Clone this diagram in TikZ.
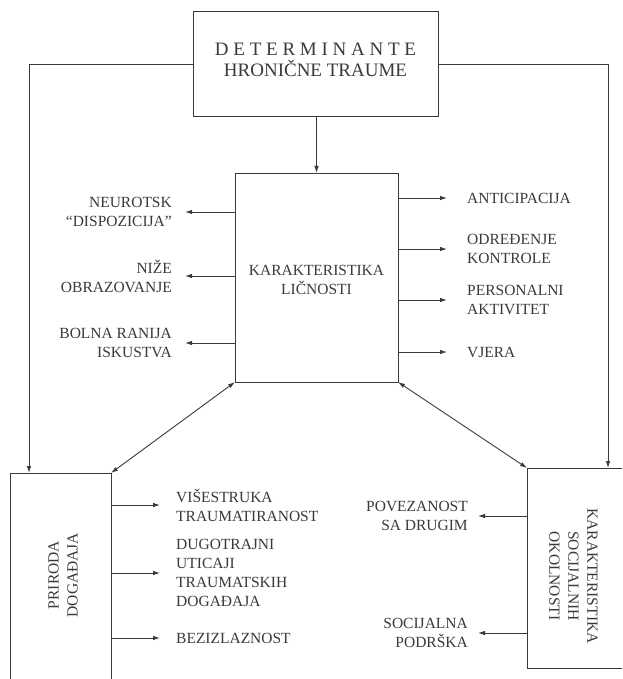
\documentclass[tikz,border=0pt]{standalone}
\usepackage{fontspec}
\setmainfont{Liberation Serif}
\usetikzlibrary{arrows.meta}
\definecolor{ink}{HTML}{3A3A3A}
\begin{document}
\begin{tikzpicture}[x=1pt,y=-1pt,
  box/.style={draw=ink, line width=1pt, inner sep=0pt, outer sep=0pt},
  con/.style={draw=ink, line width=0.9pt},
  arr/.style={con, -{Latex[length=7pt,width=4.5pt]}},
  darr/.style={con, {Latex[length=7pt,width=4.5pt]}-{Latex[length=7pt,width=4.5pt]}},
  txt/.style={text=ink, font=\fontsize{15.5}{19}\selectfont, inner ysep=0pt},
  labL/.style={txt, anchor=east, align=right},
  labR/.style={txt, anchor=west, align=left}]
\clip (0,0) rectangle (622,679);
\fill[white] (0,0) rectangle (622,679);
% boxes
\node[box, minimum width=245pt, minimum height=105pt] (top) at (315.5,64.5) {};
\node[box, minimum width=163pt, minimum height=209pt] (mid) at (316.5,277.5) {};
\node[box, minimum width=101pt, minimum height=227pt] (left) at (60.5,586.5) {};
\node[box, minimum width=113pt, minimum height=200pt] (right) at (583.5,568) {};
% box texts
\node[text=ink, align=center, inner sep=0pt, font=\fontsize{19}{21}\selectfont] (toptxt) at (315.5,60) {D E T E R M I N A N T E\\HRONIČNE TRAUME};
\node[txt, align=center] (midtxt) at (316.5,280) {KARAKTERISTIKA\\LIČNOSTI};
\node[txt, align=center, rotate=90] (lefttxt) at (63,575) {PRIRODA\\DOGAĐAJA};
\node[txt, align=center, rotate=-90] (righttxt) at (573.5,576) {KARAKTERISTIKA\\SOCIJALNIH\\OKOLNOSTI};
% labels left of middle box
\node[labL, inner xsep=13pt] (n1) at (185,212) {NEUROTSK\\“DISPOZICIJA”};
\node[labL, inner xsep=13pt] (n2) at (185,276) {NIŽE\\OBRAZOVANJE};
\node[labL, inner xsep=13pt] (n3) at (185,343) {BOLNA RANIJA\\ISKUSTVA};
% labels right of middle box
\node[labR, inner xsep=20pt] (r1) at (447,198) {ANTICIPACIJA};
\node[labR, inner xsep=20pt] (r2) at (447,249) {ODREĐENJE\\KONTROLE};
\node[labR, inner xsep=20pt] (r3) at (447,300) {PERSONALNI\\AKTIVITET};
\node[labR, inner xsep=20pt] (r4) at (447,352) {VJERA};
% labels of lower left box
\node[labR, inner xsep=16pt] (b1) at (160,505) {VIŠESTRUKA\\TRAUMATIRANOST};
\node[labR, inner xsep=16pt] (b2) at (160,573) {DUGOTRAJNI\\UTICAJI\\TRAUMATSKIH\\DOGAĐAJA};
\node[labR, inner xsep=16pt] (b3) at (160,638) {BEZIZLAZNOST};
% labels of lower right box
\node[labL, inner xsep=10pt] (s1) at (478,516) {POVEZANOST\\SA DRUGIM};
\node[labL, inner xsep=10pt] (s2) at (478,633) {SOCIJALNA\\PODRŠKA};
% connectors
\coordinate (lc) at (29,64.5);
\coordinate (rc) at (608,64.5);
\draw[arr] (top.west) -- (lc) -- (lc |- left.north);
\draw[arr] (top.east) -- (rc) -- (rc |- right.north);
\draw[arr] (top.south -| mid.north) -- (mid.north);
\foreach \n in {n1,n2,n3} \draw[arr] (mid.west |- \n.east) -- (\n.east);
\foreach \n in {r1,r2,r3,r4} \draw[arr] (mid.east |- \n.west) -- (\n.west);
\foreach \n in {b1,b2,b3} \draw[arr] (left.east |- \n.west) -- (\n.west);
\foreach \n in {s1,s2} \draw[arr] (right.west |- \n.east) -- (\n.east);
\draw[darr] (mid.south west) -- (left.north east);
\draw[darr] (mid.south east) -- (right.north west);
\end{tikzpicture}
\end{document}
